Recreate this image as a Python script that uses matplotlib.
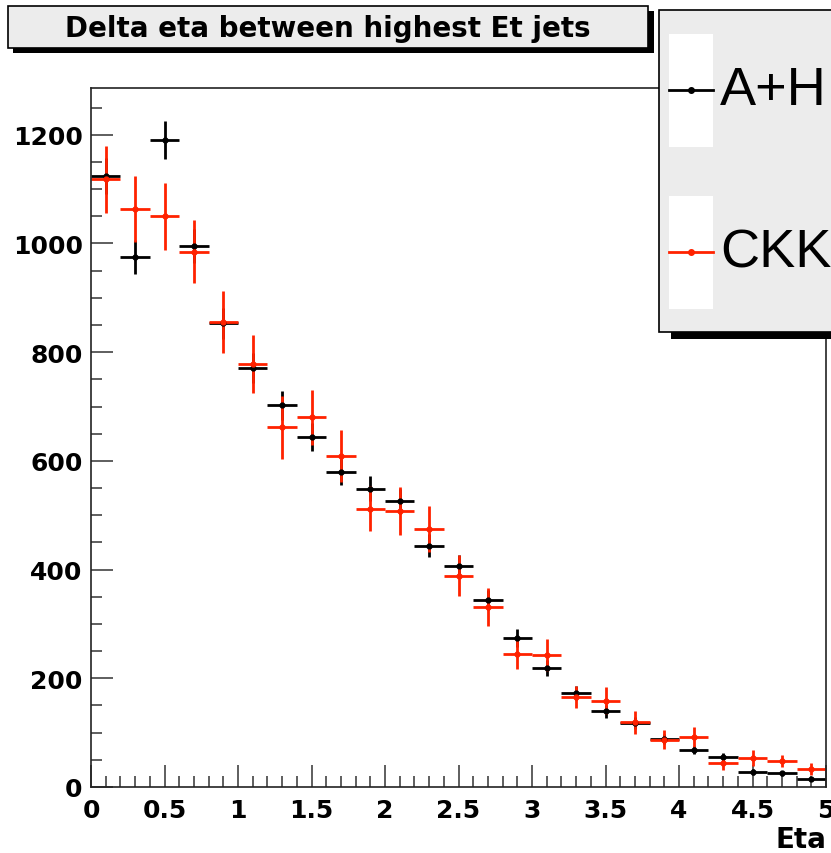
# ROOT-style comparison of delta eta between the two highest Et jets
import matplotlib
matplotlib.use('Agg')
import matplotlib.pyplot as plt
from matplotlib.patches import Rectangle
from matplotlib.lines import Line2D
from matplotlib.ticker import MultipleLocator, FuncFormatter

plt.rcParams['font.family'] = ['Liberation Sans', 'DejaVu Sans']
BOLD = ['DejaVu Sans']

# bin centres (width 0.2)
eta = [0.1, 0.3, 0.5, 0.7, 0.9, 1.1, 1.3, 1.5, 1.7, 1.9, 2.1, 2.3, 2.5,
       2.7, 2.9, 3.1, 3.3, 3.5, 3.7, 3.9, 4.1, 4.3, 4.5, 4.7, 4.9]
half_width = 0.1

ah_counts = [1124, 975, 1190, 995, 853, 771, 702, 644, 580, 549, 526, 444, 406,
             344, 274, 219, 173, 139, 118, 88, 68, 55, 28, 25, 15]
ah_err = [33.5, 31, 34.5, 31.5, 29, 28, 26.5, 25.5, 24, 23.5, 23, 21, 20,
          18.5, 16.5, 15, 13, 12, 11, 9.5, 8, 7.5, 5.5, 5, 4]

ckk_counts = [1118, 1063, 1050, 985, 855, 778, 662, 680, 609, 512, 508, 475, 389,
              331, 245, 243, 166, 159, 119, 87, 92, 45, 53, 47, 33]
ckk_err = [62, 61, 62, 58, 57, 53, 58, 50, 48, 41, 44, 42, 37,
           35, 27, 29, 20, 25, 21, 18, 18, 13, 15, 11, 11]

labels = ['A+H', 'CKK']
colors = ['black', '#ff2200']

W, H = 831, 854
fig = plt.figure(figsize=(W / 100, H / 100), dpi=100)
ax = fig.add_axes([91 / W, (H - 788) / H, 735 / W, 699 / H])

ax.errorbar(eta, ah_counts, xerr=half_width, yerr=ah_err, fmt='o', ms=3.5,
            color=colors[0], elinewidth=2, capsize=0)
ax.errorbar(eta, ckk_counts, xerr=half_width, yerr=ckk_err, fmt='o', ms=3.5,
            color=colors[1], elinewidth=2, capsize=0)

ax.set_xlim(0, 5)
ax.set_ylim(0, 1286)
ax.xaxis.set_major_locator(MultipleLocator(0.5))
ax.xaxis.set_minor_locator(MultipleLocator(0.1))
ax.yaxis.set_major_locator(MultipleLocator(200))
ax.yaxis.set_minor_locator(MultipleLocator(50))
ax.xaxis.set_major_formatter(FuncFormatter(lambda v, p: f'{v:g}'))
ax.tick_params(which='both', direction='in', top=False, right=False,
               labelsize=18, width=1.1, color='#333333')
ax.tick_params(which='major', length=16)
ax.tick_params(which='minor', length=8)
ax.tick_params(axis='x', pad=8)
ax.tick_params(axis='y', pad=6)
for lab in ax.get_xticklabels() + ax.get_yticklabels():
    lab.set_fontweight('bold')
    lab.set_family(BOLD)
for s in ax.spines.values():
    s.set_linewidth(1.2)
    s.set_color('#222222')

fig.text(826 / W, 1 - 840 / H, 'Eta', ha='right', va='center',
         fontsize=20, fontweight='bold', family=BOLD)


def fig_rect(x0, y0, x1, y1, **kw):
    r = Rectangle((x0 / W, 1 - y1 / H), (x1 - x0) / W, (y1 - y0) / H,
                  transform=fig.transFigure, **kw)
    fig.patches.append(r)


# title box with shadow
fig_rect(13, 12, 654, 54, facecolor='black', edgecolor='none', zorder=5)
fig_rect(8, 7, 648, 49, facecolor='#ececec', edgecolor='black', lw=1.2, zorder=6)
fig.text(328 / W, 1 - 29 / H, 'Delta eta between highest Et jets', ha='center',
         va='center', fontsize=20, fontweight='bold', family=BOLD, zorder=7)

# legend box with shadow
fig_rect(671, 18, 840, 340, facecolor='black', edgecolor='none', zorder=5)
fig_rect(659, 11, 845, 333, facecolor='#ececec', edgecolor='black', lw=1.2, zorder=6)
for i, (lab, col) in enumerate(zip(labels, colors)):
    yc = [91, 253][i]
    fig_rect(669, yc - 56, 713, yc + 57, facecolor='white', edgecolor='none', zorder=7)
    fig.lines.append(Line2D([669 / W, 713 / W], [1 - yc / H, 1 - yc / H],
                            transform=fig.transFigure, color=col, lw=2, zorder=8))
    fig.lines.append(Line2D([691 / W], [1 - yc / H], transform=fig.transFigure,
                            color=col, marker='o', ms=4, zorder=9))
    fig.text(720 / W, 1 - yc / H, lab, ha='left', va='center', fontsize=39,
             zorder=9)

fig.savefig('out.png', dpi=100)
